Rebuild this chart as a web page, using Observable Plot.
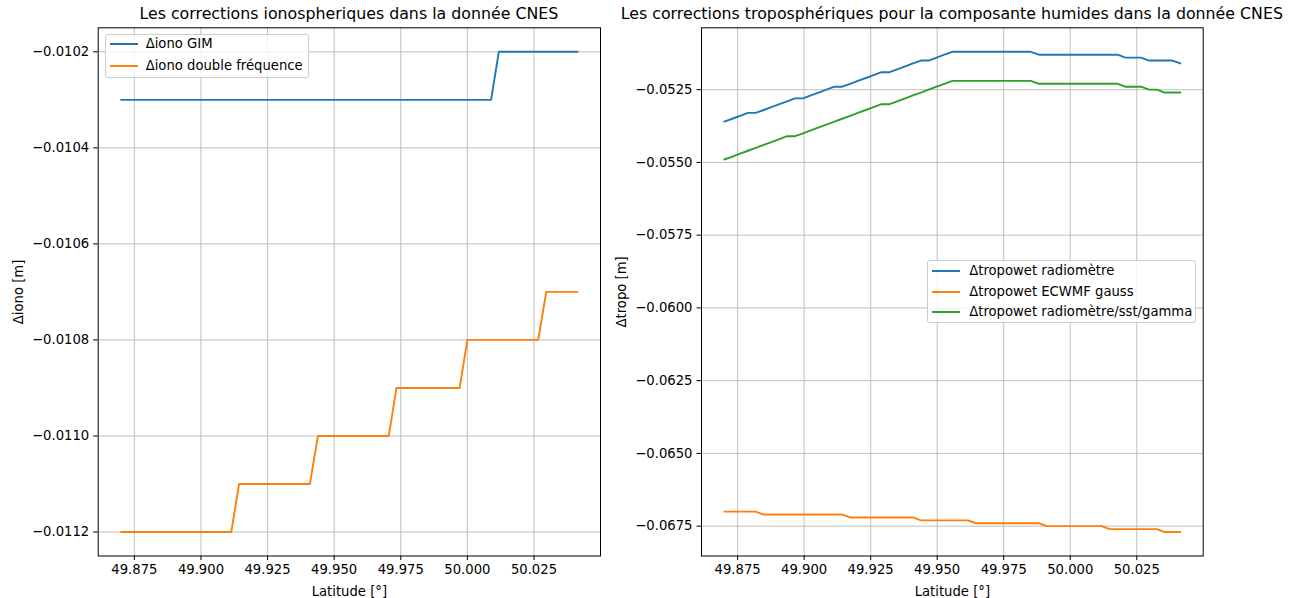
<!DOCTYPE html>
<html><head><meta charset="utf-8">
<script src="https://cdn.jsdelivr.net/npm/d3@7"></script>
<script src="https://cdn.jsdelivr.net/npm/@observablehq/plot@0.6"></script>
<style>
body{margin:0;background:#fff;}
#fig{position:relative;width:1301px;height:598px;background:#fff;font-family:"DejaVu Sans",sans-serif;overflow:hidden;}
#fig svg{position:absolute;top:0;}
.title{position:absolute;top:5px;font-size:15.8px;line-height:18px;white-space:nowrap;transform:translateX(-50%);color:#000;}
.legend{position:absolute;background:rgba(255,255,255,0.8);border:1px solid #cccccc;border-radius:3px;box-sizing:border-box;font-size:13.2px;color:#000;}
.entry{position:absolute;white-space:nowrap;line-height:15px;}
.swatch{position:absolute;height:2px;}
</style></head><body><div id="fig"></div>
<script>
// ---- data ----
const latitude = [49.8700,49.8730,49.8759,49.8789,49.8818,49.8848,49.8877,49.8907,49.8936,49.8966,
49.8996,49.9025,49.9055,49.9084,49.9114,49.9143,49.9173,49.9202,49.9232,49.9261,
49.9291,49.9321,49.9350,49.9380,49.9409,49.9439,49.9468,49.9498,49.9527,49.9557,
49.9587,49.9616,49.9646,49.9675,49.9705,49.9734,49.9764,49.9793,49.9823,49.9852,
49.9882,49.9912,49.9941,49.9971,50.0000,50.0030,50.0059,50.0089,50.0118,50.0148,
50.0178,50.0207,50.0237,50.0266,50.0296,50.0325,50.0355,50.0384,50.0414];

const ionoGIM = [-0.0103,-0.0103,-0.0103,-0.0103,-0.0103,-0.0103,-0.0103,-0.0103,-0.0103,-0.0103,
-0.0103,-0.0103,-0.0103,-0.0103,-0.0103,-0.0103,-0.0103,-0.0103,-0.0103,-0.0103,
-0.0103,-0.0103,-0.0103,-0.0103,-0.0103,-0.0103,-0.0103,-0.0103,-0.0103,-0.0103,
-0.0103,-0.0103,-0.0103,-0.0103,-0.0103,-0.0103,-0.0103,-0.0103,-0.0103,-0.0103,
-0.0103,-0.0103,-0.0103,-0.0103,-0.0103,-0.0103,-0.0103,-0.0103,-0.0102,-0.0102,
-0.0102,-0.0102,-0.0102,-0.0102,-0.0102,-0.0102,-0.0102,-0.0102,-0.0102];

const ionoDF = [-0.0112,-0.0112,-0.0112,-0.0112,-0.0112,-0.0112,-0.0112,-0.0112,-0.0112,-0.0112,
-0.0112,-0.0112,-0.0112,-0.0112,-0.0112,-0.0111,-0.0111,-0.0111,-0.0111,-0.0111,
-0.0111,-0.0111,-0.0111,-0.0111,-0.0111,-0.0110,-0.0110,-0.0110,-0.0110,-0.0110,
-0.0110,-0.0110,-0.0110,-0.0110,-0.0110,-0.0109,-0.0109,-0.0109,-0.0109,-0.0109,
-0.0109,-0.0109,-0.0109,-0.0109,-0.0108,-0.0108,-0.0108,-0.0108,-0.0108,-0.0108,
-0.0108,-0.0108,-0.0108,-0.0108,-0.0107,-0.0107,-0.0107,-0.0107,-0.0107];

const tropoRadiometre = [-0.0536,-0.0535,-0.0534,-0.0533,-0.0533,-0.0532,-0.0531,-0.0530,-0.0529,-0.0528,
-0.0528,-0.0527,-0.0526,-0.0525,-0.0524,-0.0524,-0.0523,-0.0522,-0.0521,-0.0520,
-0.0519,-0.0519,-0.0518,-0.0517,-0.0516,-0.0515,-0.0515,-0.0514,-0.0513,-0.0512,
-0.0512,-0.0512,-0.0512,-0.0512,-0.0512,-0.0512,-0.0512,-0.0512,-0.0512,-0.0512,
-0.0513,-0.0513,-0.0513,-0.0513,-0.0513,-0.0513,-0.0513,-0.0513,-0.0513,-0.0513,
-0.0513,-0.0514,-0.0514,-0.0514,-0.0515,-0.0515,-0.0515,-0.0515,-0.0516];

const tropoECMWF = [-0.0670,-0.0670,-0.0670,-0.0670,-0.0670,-0.0671,-0.0671,-0.0671,-0.0671,-0.0671,
-0.0671,-0.0671,-0.0671,-0.0671,-0.0671,-0.0671,-0.0672,-0.0672,-0.0672,-0.0672,
-0.0672,-0.0672,-0.0672,-0.0672,-0.0672,-0.0673,-0.0673,-0.0673,-0.0673,-0.0673,
-0.0673,-0.0673,-0.0674,-0.0674,-0.0674,-0.0674,-0.0674,-0.0674,-0.0674,-0.0674,
-0.0674,-0.0675,-0.0675,-0.0675,-0.0675,-0.0675,-0.0675,-0.0675,-0.0675,-0.0676,
-0.0676,-0.0676,-0.0676,-0.0676,-0.0676,-0.0676,-0.0677,-0.0677,-0.0677];

const tropoSstGamma = [-0.0549,-0.0548,-0.0547,-0.0546,-0.0545,-0.0544,-0.0543,-0.0542,-0.0541,-0.0541,
-0.0540,-0.0539,-0.0538,-0.0537,-0.0536,-0.0535,-0.0534,-0.0533,-0.0532,-0.0531,
-0.0530,-0.0530,-0.0529,-0.0528,-0.0527,-0.0526,-0.0525,-0.0524,-0.0523,-0.0522,
-0.0522,-0.0522,-0.0522,-0.0522,-0.0522,-0.0522,-0.0522,-0.0522,-0.0522,-0.0522,
-0.0523,-0.0523,-0.0523,-0.0523,-0.0523,-0.0523,-0.0523,-0.0523,-0.0523,-0.0523,
-0.0523,-0.0524,-0.0524,-0.0524,-0.0525,-0.0525,-0.0526,-0.0526,-0.0526];

const xTicks = [49.875, 49.900, 49.925, 49.950, 49.975, 50.000, 50.025];
const ionoTicks = [-0.0112, -0.0110, -0.0108, -0.0106, -0.0104, -0.0102];
const tropoTicks = [-0.0675, -0.0650, -0.0625, -0.0600, -0.0575, -0.0550, -0.0525];

const ionoLabels = ["Δiono GIM", "Δiono double fréquence"];
const tropoLabels = ["Δtropowet radiomètre", "Δtropowet ECWMF gauss", "Δtropowet radiomètre/sst/gamma"];
const colors = ["#1f77b4", "#ff7f0e", "#2ca02c"];

const titles = ["Les corrections ionospheriques dans la donnée CNES",
                "Les corrections troposphériques pour la composante humides dans la donnée CNES"];

// ---- drawing ----
const fig = document.getElementById("fig");
const grid = {stroke: "#b0b0b0", strokeOpacity: 1, strokeWidth: 0.8};

function chart({series, yTicks, yLabel, width, marginLeft, marginRight, left}) {
  const all = series.flat();
  const [ymin, ymax] = d3.extent(all);
  const [xmin, xmax] = d3.extent(latitude);
  const px = (xmax - xmin) * 0.05, py = (ymax - ymin) * 0.05;
  const marks = [
    Plot.gridX(xTicks, grid),
    Plot.gridY(yTicks, grid),
    ...series.map((vals, j) => Plot.line(latitude.map((x, i) => ({x, y: vals[i]})),
      {x: "x", y: "y", stroke: colors[j], strokeWidth: 1.9, strokeLinejoin: "round"})),
    Plot.frame({stroke: "#000", strokeWidth: 1}),
    Plot.axisX(xTicks, {tickFormat: d3.format(".3f"), tickSize: 4.5, tickPadding: 4.5,
      label: "Latitude [°]", labelAnchor: "center", labelArrow: "none", labelOffset: 40}),
    Plot.axisY(yTicks, {tickFormat: d3.format(".4f"), tickSize: 4.5, tickPadding: 4.5,
      label: yLabel, labelAnchor: "center", labelArrow: "none", labelOffset: 85})
  ];
  const svg = Plot.plot({
    width, height: 598, marginLeft, marginRight, marginTop: 27.3, marginBottom: 42.5,
    x: {domain: [xmin - px, xmax + px]},
    y: {domain: [ymin - py, ymax + py]},
    style: {fontFamily: "DejaVu Sans", fontSize: "13.2px", color: "#000", background: "transparent", overflow: "visible"},
    marks
  });
  svg.style.left = left + "px";
  fig.appendChild(svg);
}

chart({series: [ionoGIM, ionoDF], yTicks: ionoTicks, yLabel: "Δiono [m]",
       width: 605, marginLeft: 97.7, marginRight: 5, left: 0});
chart({series: [tropoRadiometre, tropoECMWF, tropoSstGamma], yTicks: tropoTicks, yLabel: "Δtropo [m]",
       width: 696, marginLeft: 96, marginRight: 98.3, left: 605});

function addTitle(text, cx) {
  const d = document.createElement("div");
  d.className = "title"; d.textContent = text; d.style.left = cx + "px";
  fig.appendChild(d);
}
addTitle(titles[0], 348.85);
addTitle(titles[1], 951.85);

function addLegend(labels, box) {
  const L = document.createElement("div");
  L.className = "legend";
  Object.assign(L.style, {left: box.x + "px", top: box.y + "px", width: box.w + "px", height: box.h + "px"});
  labels.forEach((lab, i) => {
    const cy = box.first + i * box.step;
    const sw = document.createElement("div");
    sw.className = "swatch";
    Object.assign(sw.style, {left: "4px", width: "28px", top: (cy - 1) + "px", background: colors[i]});
    const t = document.createElement("div");
    t.className = "entry"; t.textContent = lab;
    Object.assign(t.style, {left: box.tx + "px", top: (cy - 8) + "px"});
    L.appendChild(sw); L.appendChild(t);
  });
  fig.appendChild(L);
}
addLegend(ionoLabels, {x: 104.7, y: 34, w: 204, h: 44, first: 9.3, step: 21.4, tx: 40});
addLegend(tropoLabels, {x: 926.7, y: 260, w: 269.3, h: 62.7, first: 10.2, step: 20.5, tx: 41.5});
</script></body></html>
